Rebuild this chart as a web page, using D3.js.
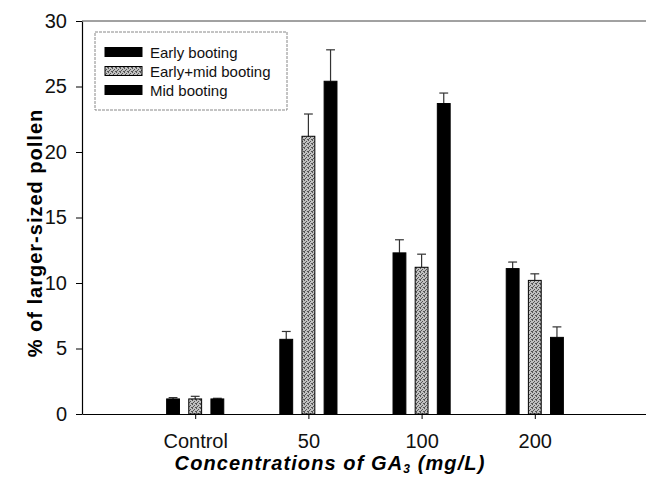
<!DOCTYPE html>
<html>
<head>
<meta charset="utf-8">
<script src="https://cdn.jsdelivr.net/npm/d3@7"></script>
<style>
  body { margin: 0; background: #fff; }
  svg, svg text { font-family: "Liberation Sans", Arial, sans-serif; }
</style>
</head>
<body>
<svg width="646" height="478"></svg>
<script>
// data
var categories = ["Control", "50", "100", "200"];
var series = ["Early booting", "Early+mid booting", "Mid booting"];
var earlyVals = [1.15, 5.7, 12.3, 11.1];
var earlyErr = [0.1, 0.6, 1.0, 0.5];
var earlyMidVals = [1.15, 21.2, 11.2, 10.2];
var earlyMidErr = [0.2, 1.7, 1.0, 0.5];
var midVals = [1.15, 25.4, 23.7, 5.85];
var midErr = [0.05, 2.4, 0.8, 0.8];
var yTicks = [0, 5, 10, 15, 20, 25, 30];

var values = [earlyVals, earlyMidVals, midVals];
var errors = [earlyErr, earlyMidErr, midErr];

var svg = d3.select("svg"),
    plotLeft = 82, plotRight = 648, plotTop = 21, plotBottom = 414;

var defs = svg.append("defs");
var pat = defs.append("pattern")
    .attr("id", "stipple")
    .attr("patternUnits", "userSpaceOnUse")
    .attr("width", 4).attr("height", 4);
pat.append("rect").attr("width", 4).attr("height", 4).attr("fill", "#c0c0c0");
[[0, 0], [2, 1], [1, 2], [3, 3], [0, 3]].forEach(function(p) {
    pat.append("rect").attr("x", p[0]).attr("y", p[1])
        .attr("width", 1).attr("height", 1).attr("fill", "#555");
});

var x = d3.scalePoint().domain(categories).range([plotLeft, plotRight]).padding(1);
var xs = d3.scaleBand().domain(series).range([-33, 33]).paddingInner(0.42).paddingOuter(0.2);
var y = d3.scaleLinear().domain([0, 30]).range([plotBottom, plotTop]);

var fills = ["#000", "url(#stipple)", "#000"];

var rows = [];
series.forEach(function(s, si) {
    categories.forEach(function(c, ci) {
        rows.push({ s: s, si: si, c: c, v: values[si][ci], e: errors[si][ci] });
    });
});

// error bars (upward only)
var eb = svg.append("g").selectAll("g").data(rows).enter().append("g");
eb.append("line")
    .attr("x1", function(d) { return x(d.c) + xs(d.s) + xs.bandwidth() / 2; })
    .attr("x2", function(d) { return x(d.c) + xs(d.s) + xs.bandwidth() / 2; })
    .attr("y1", function(d) { return y(d.v); })
    .attr("y2", function(d) { return y(d.v + d.e); })
    .attr("stroke", "#333").attr("stroke-width", 1.2);
eb.append("line")
    .attr("x1", function(d) { return x(d.c) + xs(d.s) + 2; })
    .attr("x2", function(d) { return x(d.c) + xs(d.s) + xs.bandwidth() - 2; })
    .attr("y1", function(d) { return y(d.v + d.e); })
    .attr("y2", function(d) { return y(d.v + d.e); })
    .attr("stroke", "#333").attr("stroke-width", 1.2);

svg.append("g").selectAll("rect").data(rows).enter().append("rect")
    .attr("x", function(d) { return x(d.c) + xs(d.s); })
    .attr("y", function(d) { return y(d.v); })
    .attr("width", xs.bandwidth())
    .attr("height", function(d) { return y(0) - y(d.v); })
    .attr("fill", function(d) { return fills[d.si]; })
    .attr("stroke", "#000").attr("stroke-width", 1);

// axes
var yAxis = svg.append("g")
    .attr("transform", "translate(" + plotLeft + ",0)")
    .call(d3.axisLeft(y).tickValues(yTicks).tickSize(6).tickPadding(9).tickSizeOuter(0));
yAxis.selectAll("text").style("font-size", "20px").attr("fill", "#111");

var xAxis = svg.append("g")
    .attr("transform", "translate(0," + plotBottom + ")")
    .call(d3.axisBottom(x).tickSize(5).tickPadding(15).tickSizeOuter(0));
xAxis.selectAll("text").style("font-size", "20px").attr("fill", "#111");
xAxis.select(".domain").attr("stroke-width", 1.2);
yAxis.select(".domain").attr("stroke-width", 1.2);

// top frame line
svg.append("line")
    .attr("x1", plotLeft).attr("x2", plotRight)
    .attr("y1", y(30)).attr("y2", y(30))
    .attr("stroke", "#444").attr("stroke-width", 1);

// legend
var lg = svg.append("g");
lg.append("rect")
    .attr("x", 95).attr("y", 32).attr("width", 192).attr("height", 78)
    .attr("fill", "none").attr("stroke", "#888").attr("stroke-width", 1)
    .attr("stroke-dasharray", "3,1");
series.forEach(function(s, i) {
    var yy = 52 + i * 19;
    lg.append("rect")
        .attr("x", 105).attr("y", yy - 4.5).attr("width", 37).attr("height", 9)
        .attr("fill", fills[i]).attr("stroke", "#000");
    lg.append("text")
        .attr("x", 150).attr("y", yy + 5.5)
        .style("font-size", "15px").attr("fill", "#111")
        .text(s);
});

// axis titles
svg.append("text")
    .attr("transform", "translate(42,233) rotate(-90)")
    .attr("text-anchor", "middle")
    .style("font-size", "20px").style("font-weight", "bold")
    .style("letter-spacing", "1px")
    .text("% of larger-sized pollen");

var xt = svg.append("text")
    .attr("x", 330).attr("y", 470)
    .attr("text-anchor", "middle")
    .style("font-size", "20px").style("font-weight", "bold").style("font-style", "italic")
    .style("letter-spacing", "1.1px");
xt.append("tspan").text("Concentrations of GA");
xt.append("tspan").attr("dy", 3).style("font-size", "12px").text("3");
xt.append("tspan").attr("dy", -3).text(" (mg/L)");
</script>
</body>
</html>
